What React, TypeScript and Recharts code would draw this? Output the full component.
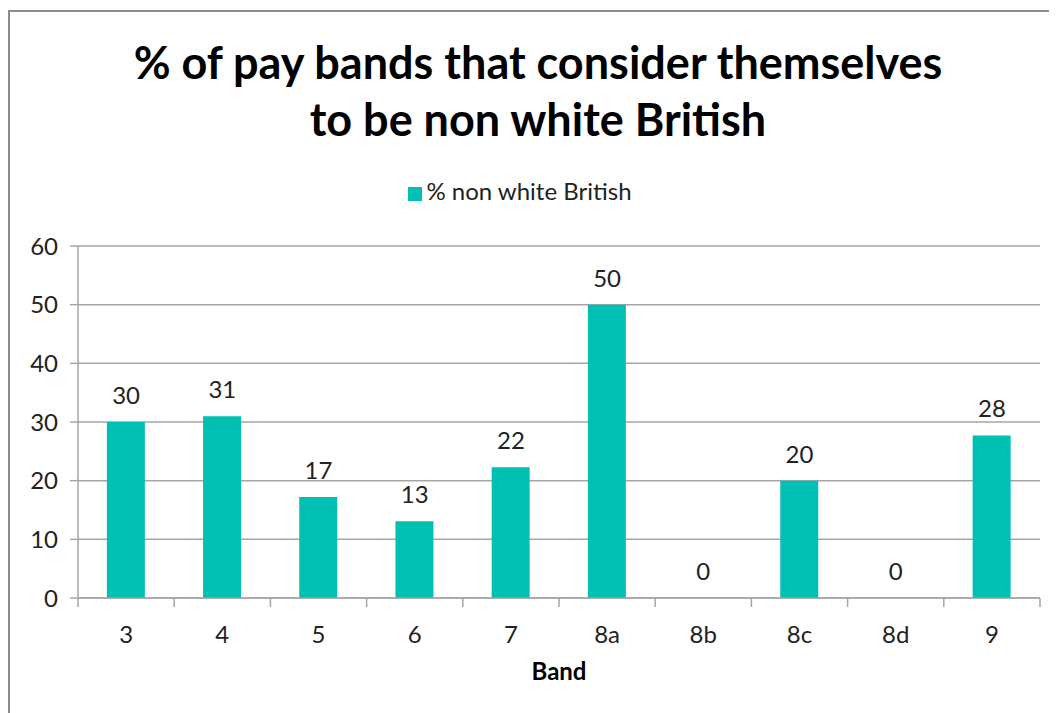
import React from 'react';
import { ComposedChart, Bar, Line, XAxis, YAxis, CartesianGrid, Legend, LabelList } from 'recharts';

const bands = ['3', '4', '5', '6', '7', '8a', '8b', '8c', '8d', '9'];
const nonWhiteBritish = [30, 31, 17.2, 13.1, 22.3, 50, 0, 20, 0, 27.7];
const yTicks = [0, 10, 20, 30, 40, 50, 60];
const boundaryTicks = [0, 1, 2, 3, 4, 5, 6, 7, 8, 9, 10];

const data = bands.map((band, i) => ({ band, idx: i + 0.5, value: nonWhiteBritish[i] }));

const FONT = 'Lato, "Open Sans", sans-serif';
const TEAL = '#00BFB3';
const GRID = '#a6a6a6';

export default function App() {
  return (
    <div
      style={{
        position: 'relative',
        width: 1056,
        height: 710,
        marginTop: 2,
        border: '2px solid #8c8c8c',
        background: '#fff',
        fontFamily: FONT,
      }}
    >
      <div
        style={{
          position: 'absolute',
          top: 22,
          left: 0,
          width: '100%',
          textAlign: 'center',
          fontWeight: 700,
          fontSize: 45,
          lineHeight: '57px',
          color: '#000',
        }}
      >
        % of pay bands that consider themselves
        <br />
        to be non white British
      </div>
      <ComposedChart
        width={1056}
        height={710}
        data={data}
        margin={{ top: 205, right: 26, left: 0, bottom: 34 }}
        barCategoryGap="30%"
        style={{ fontFamily: FONT }}
      >
        <CartesianGrid vertical={false} stroke={GRID} strokeWidth={1.5} xAxisId="a" />
        <Legend
          verticalAlign="top"
          align="center"
          iconType="square"
          iconSize={14}
          wrapperStyle={{ top: 164, fontSize: 24, color: '#222' }}
          formatter={(v: string) => <span style={{ color: '#222' }}>{v}</span>}
        />
        {/* boundary ticks between categories */}
        <XAxis
          xAxisId="a"
          type="number"
          dataKey="idx"
          domain={[0, 10]}
          ticks={boundaryTicks}
          tick={() => <g />}
          tickLine={{ stroke: GRID, strokeWidth: 1.5 }}
          tickSize={9}
          axisLine={{ stroke: GRID, strokeWidth: 1.5 }}
          height={2}
          orientation="bottom"
        />
        <XAxis
          dataKey="band"
          xAxisId="b"
          axisLine={false}
          tickLine={false}
          tick={{ fill: '#222', fontSize: 24 }}
          tickMargin={20}
          height={88}
          label={{ value: 'Band', position: 'insideBottom', offset: 8, fill: '#000', fontSize: 24, fontWeight: 700 }}
        />
        <YAxis
          domain={[0, 60]}
          ticks={yTicks}
          tickSize={8}
          tickMargin={12}
          width={68}
          stroke={GRID}
          strokeWidth={1.5}
          tick={{ fill: '#222', fontSize: 24 }}
        />
        <Bar
          dataKey="value"
          xAxisId="b"
          name="% non white British"
          fill={TEAL}
          isAnimationActive={false}
        />
        <Line
          dataKey="value"
          xAxisId="b"
          stroke="none"
          dot={false}
          activeDot={false}
          legendType="none"
          isAnimationActive={false}
        >
          <LabelList
            dataKey="value"
            position="top"
            offset={18}
            fill="#222"
            fontSize={24}
            formatter={(v: number) => String(Math.round(v))}
          />
        </Line>
      </ComposedChart>
    </div>
  );
}
